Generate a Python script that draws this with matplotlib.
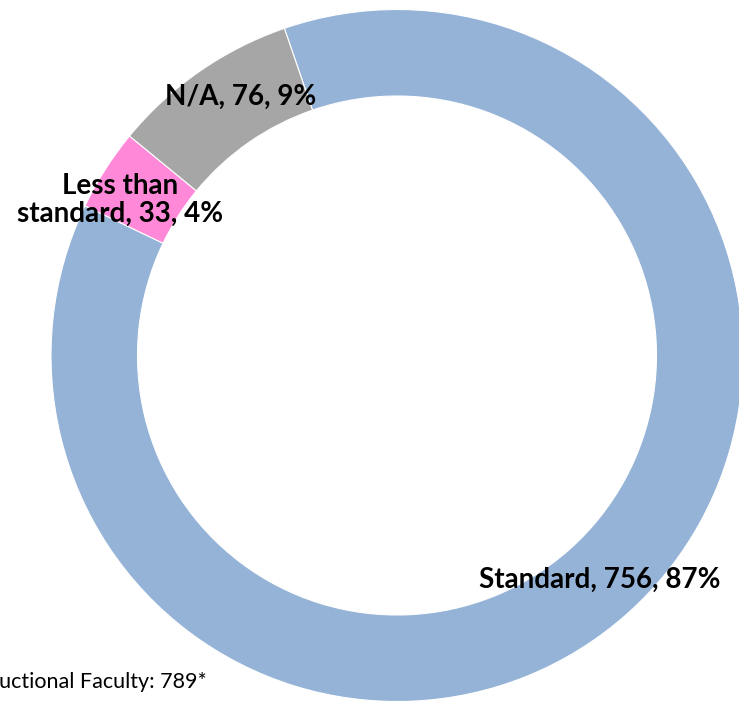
import matplotlib.pyplot as plt

# data
labels = ["Standard", "Less than\nstandard", "N/A"]
counts = [756, 33, 76]
pcts = [87, 4, 9]
colors = ["#95B3D7", "#FF88D8", "#A6A6A6"]
total_note = "Total Instructional Faculty: 789*"

W, H = 739, 702
fig = plt.figure(figsize=(W / 100, H / 100), dpi=100)
ax = fig.add_axes([0, 0, 1, 1])

cx, cy = 397, H - 355.5
R = 346
wedges, _ = ax.pie(counts, colors=colors, startangle=109, counterclock=False,
                   center=(cx, cy), radius=R,
                   wedgeprops=dict(width=R * 0.25, edgecolor="white", linewidth=0.8))
ax.set_xlim(0, W)
ax.set_ylim(0, H)
ax.set_aspect("equal")
ax.axis("off")

# label positions (pixels from top-left)
label_pos = [(600, 580), (120, 200), (241, 97)]
for lab, n, p, (x, y) in zip(labels, counts, pcts, label_pos):
    ax.text(x, H - y, f"{lab}, {n}, {p}%", ha="center", va="center",
            fontsize=20, fontweight="bold", family="Lato", color="black",
            linespacing=1.05)

# note is cut off at the left edge, as in the original
ax.text(207, H - 682, total_note, ha="right", va="center",
        fontsize=15.5, family="Lato", color="black")

fig.savefig("out.png", dpi=100)
